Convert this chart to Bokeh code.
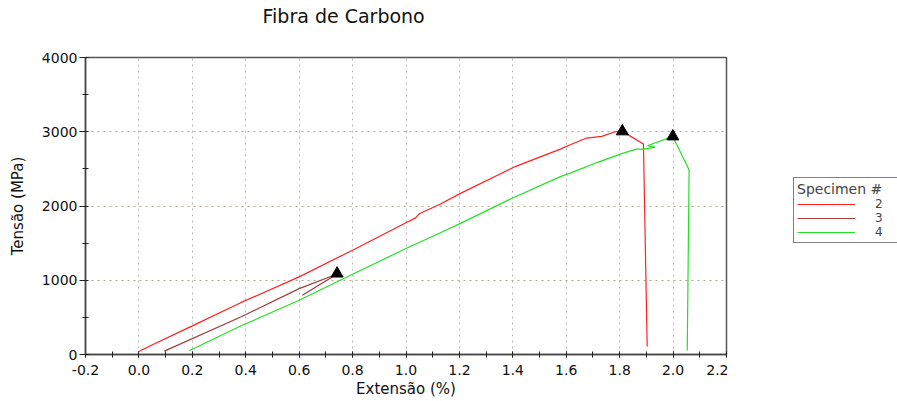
from bokeh.plotting import figure
from bokeh.layouts import row
from bokeh.models import (Legend, LegendItem, SingleIntervalTicker, NumeralTickFormatter,
                          Range1d, Title)
from bokeh.embed import file_html
from bokeh.resources import INLINE

# Specimen 2 (red)
s2_x = [0.0, 0.045, 0.2, 0.381, 0.6, 0.8, 1.0, 1.036, 1.048, 1.129, 1.204, 1.409, 1.578, 1.615, 1.677, 1.733, 1.783, 1.81, 1.889, 1.903]
s2_y = [40, 122, 385, 698, 1045, 1405, 1775, 1840, 1892, 2027, 2170, 2531, 2766, 2824, 2915, 2937, 3000, 3005, 2834, 108]
# Specimen 3 (brown)
s3_x = [0.095, 0.381, 0.6, 0.73, 0.742, 0.612]
s3_y = [45, 505, 887, 1068, 1085, 797]
# Specimen 4 (green)
s4_x = [0.19, 0.381, 0.6, 0.8, 1.0, 1.129, 1.204, 1.397, 1.578, 1.615, 1.715, 1.802, 1.862, 1.889, 1.933, 1.904, 1.999, 2.06, 2.053]
s4_y = [54, 383, 730, 1081, 1428, 1640, 1766, 2104, 2396, 2442, 2585, 2699, 2766, 2766, 2793, 2811, 2937, 2486, 54]
# peaks (triangles)
peak_x = [1.81, 0.742, 1.999]
peak_y = [3005, 1090, 2937]

labels = ["2", "3", "4"]
colors = ["#ff2020", "#a03c3c", "#22e022"]
title_text = "Fibra de Carbono"

FONT = "DejaVu Sans"

p = figure(width=728, height=401, output_backend="svg", toolbar_location=None,
           x_range=Range1d(-0.2, 2.2), y_range=Range1d(0, 4000), title=None,
           min_border_left=85, min_border_right=2, min_border_top=57, min_border_bottom=47)

# spacer (closest to the frame) then the real title above it
spacer = Title(text=" ", text_font_size="10px", standoff=16)
p.add_layout(spacer, "above")
main_title = Title(text=title_text, text_font=FONT, text_font_size="19px", text_font_style="normal",
                   align="left", offset=177, vertical_align="top", standoff=0, text_color="#111111")
p.add_layout(main_title, "above")

p.outline_line_color = "#555555"
p.outline_line_width = 1.5
p.background_fill_color = "white"
p.border_fill_color = "white"

p.xaxis.ticker = SingleIntervalTicker(interval=0.2, num_minor_ticks=2)
p.yaxis.ticker = SingleIntervalTicker(interval=1000, num_minor_ticks=2)
p.xaxis.formatter = NumeralTickFormatter(format="0.0")

for ax in (p.xaxis[0], p.yaxis[0]):
    ax.axis_line_color = "#444444"
    ax.axis_line_width = 1.5
    ax.major_tick_line_color = "#222222"
    ax.minor_tick_line_color = "#222222"
    ax.major_label_text_font = FONT
    ax.major_label_text_font_size = "14px"
    ax.major_label_text_color = "#111111"
    ax.axis_label_text_font = FONT
    ax.axis_label_text_font_size = "15px"
    ax.axis_label_text_font_style = "normal"
    ax.axis_label_text_color = "#111111"

p.xaxis.axis_label = "Extensão (%)"
p.yaxis.axis_label = "Tensão (MPa)"
p.xaxis.major_tick_in = 3
p.xaxis.major_tick_out = 3
p.xaxis.minor_tick_in = 3
p.xaxis.minor_tick_out = 3
p.xaxis.major_label_standoff = 7
p.xaxis.axis_label_standoff = 2
p.yaxis.major_tick_in = 0
p.yaxis.major_tick_out = 6
p.yaxis.minor_tick_in = 3
p.yaxis.minor_tick_out = 3
p.yaxis.major_label_standoff = 2
p.yaxis.axis_label_standoff = 12

p.xgrid.grid_line_color = "#b8b8b8"
p.xgrid.grid_line_dash = "2 4"
p.ygrid.grid_line_color = "#b0a888"
p.ygrid.grid_line_dash = "2 4"

p.line(s2_x, s2_y, line_color=colors[0], line_width=1.2)
p.line(s3_x, s3_y, line_color=colors[1], line_width=1.2)
p.line(s4_x, s4_y, line_color=colors[2], line_width=1.2)
p.scatter(peak_x, peak_y, marker="triangle", size=12, fill_color="black", line_color="black")

# separate panel holding the legend, to the right of the chart
# (its ranges are far from the data so the series are not drawn there; only the legend shows)
q = figure(width=169, height=401, output_backend="svg", toolbar_location=None,
           x_axis_type=None, y_axis_type=None, x_range=Range1d(100, 101), y_range=Range1d(100000, 100001),
           min_border_left=0, min_border_right=0, min_border_top=57, min_border_bottom=47)
q.outline_line_color = None
q.xgrid.visible = False
q.ygrid.visible = False
l2 = q.line(s2_x, s2_y, line_color=colors[0], line_width=1.2)
l3 = q.line(s3_x, s3_y, line_color=colors[1], line_width=1.2)
l4 = q.line(s4_x, s4_y, line_color=colors[2], line_width=1.2)

legend = Legend(items=[LegendItem(label=labels[0], renderers=[l2]),
                       LegendItem(label=labels[1], renderers=[l3]),
                       LegendItem(label=labels[2], renderers=[l4])],
                location=(65, 111), title="Specimen #")
legend.title_text_font = FONT
legend.title_text_font_size = "14px"
legend.title_text_font_style = "normal"
legend.title_standoff = 0
legend.label_text_font = FONT
legend.label_text_font_size = "12px"
legend.label_standoff = 20
legend.glyph_width = 58
legend.glyph_height = 12
legend.label_height = 12
legend.spacing = 0
legend.padding = 3
legend.margin = 0
legend.border_line_color = "black"
legend.border_line_width = 1
legend.background_fill_alpha = 1
q.add_layout(legend, "center")

layout = row(p, q, spacing=0)
open("out.html", "w").write(file_html(layout, INLINE))
